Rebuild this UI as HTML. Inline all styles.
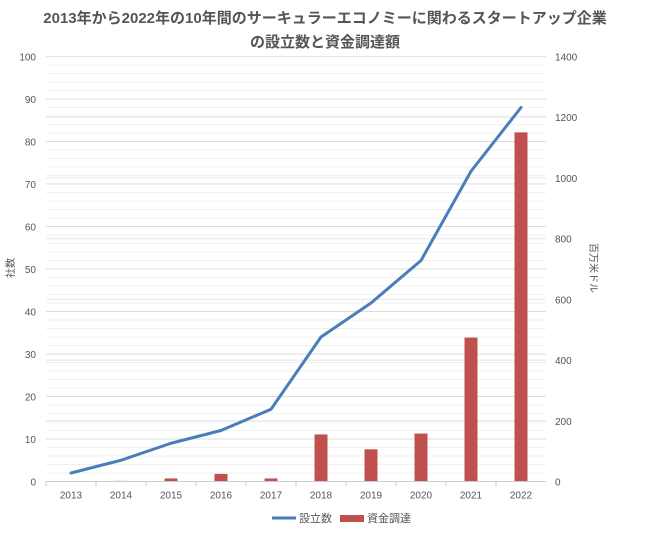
<!DOCTYPE html>
<html><head><meta charset="utf-8"><style>
body{margin:0;background:#fff;font-family:"Liberation Sans","Noto Sans CJK JP",sans-serif;}
</style></head><body>
<svg width="650" height="537" id="c" font-family="Liberation Sans, Noto Sans CJK JP, sans-serif">
<text x="325" y="23" text-anchor="middle" font-size="15" font-weight="bold" fill="#555">2013年から2022年の10年間のサーキュラーエコノミーに関わるスタートアップ企業</text>
<text x="325" y="47" text-anchor="middle" font-size="15" font-weight="bold" fill="#555">の設立数と資金調達額</text>
<text transform="translate(14,268) rotate(-90)" text-anchor="middle" font-size="10" fill="#555">社数</text>
<text transform="translate(590,268) rotate(90)" text-anchor="middle" font-size="10" fill="#555">百万米ドル</text>
<g id="grid"></g><g id="bars"></g><g id="line"></g><g id="axes"></g>
<g>
<line x1="272" y1="518" x2="296" y2="518" stroke="#4a7ebb" stroke-width="3"/>
<text x="299" y="522" font-size="11" fill="#555">設立数</text>
<rect x="340" y="515" width="24" height="7" fill="#c0504d"/>
<text x="367" y="522" font-size="11" fill="#555">資金調達</text>
</g>
</svg>
<script>
const categories=["2013","2014","2015","2016","2017","2018","2019","2020","2021","2022"];
const counts=[2,5,9,12,17,34,42,52,73,88];
const funding=[0,2,10,25,10,155,106,158,474,1150];
const leftTicks=[0,10,20,30,40,50,60,70,80,90,100];
const rightTicks=[0,200,400,600,800,1000,1200,1400];
const NS="http://www.w3.org/2000/svg";
const X0=46,X1=546,Y0=481.5,Y1=56.5;
const band=(X1-X0)/categories.length;
const xc=i=>X0+band*(i+0.5);
const yl=v=>Y0-(v/100)*(Y0-Y1);
const yr=v=>Y0-(v/1400)*(Y0-Y1);
function mk(tag,attrs,parent){const e=document.createElementNS(NS,tag);for(const k in attrs)e.setAttribute(k,attrs[k]);document.getElementById(parent).appendChild(e);return e;}
for(let v=0;v<=100;v+=2){if(v%10===0)continue;const g=mk('line',{x1:X0,x2:X1,y1:yl(v),y2:yl(v),stroke:'#f0f0f0','stroke-width':1},'grid');

}
leftTicks.forEach(v=>{const g=mk('line',{x1:X0,x2:X1,y1:yl(v),y2:yl(v),stroke:'#dcdcdc','stroke-width':1},'grid');


const t=mk('text',{x:X0-10,y:yl(v)+4,'text-anchor':'end','font-size':10,fill:'#555'},'axes');t.textContent=v;

});
rightTicks.forEach(v=>{const g=mk('line',{x1:X0,x2:X1,y1:yr(v),y2:yr(v),stroke:'#e6e6e6','stroke-width':1},'grid');


const t=mk('text',{x:X1+9,y:yr(v)+4,'font-size':10,fill:'#555'},'axes');t.textContent=v;

});
const ax=mk('line',{x1:X0,x2:X1,y1:Y0,y2:Y0,stroke:'#ccc'},'axes');


categories.forEach((c,i)=>{const tk=mk('line',{x1:X0+band*i,x2:X0+band*i,y1:Y0,y2:Y0+5,stroke:'#ccc'},'axes');


const t=mk('text',{x:xc(i),y:Y0+17,'text-anchor':'middle','font-size':10,fill:'#555'},'axes');t.textContent=c;


const h=Y0-yr(funding[i]);const b=mk('rect',{x:xc(i)-6.5,y:yr(funding[i]),width:13,height:h,fill:'#c0504d'},'bars');

});
const pts=counts.map((v,i)=>xc(i)+','+yl(v)).join(' ');
const pl=mk('polyline',{points:pts,fill:'none',stroke:'#4a7ebb','stroke-width':3,'stroke-linejoin':'round','stroke-linecap':'round'},'line');


</script>
</body></html>
